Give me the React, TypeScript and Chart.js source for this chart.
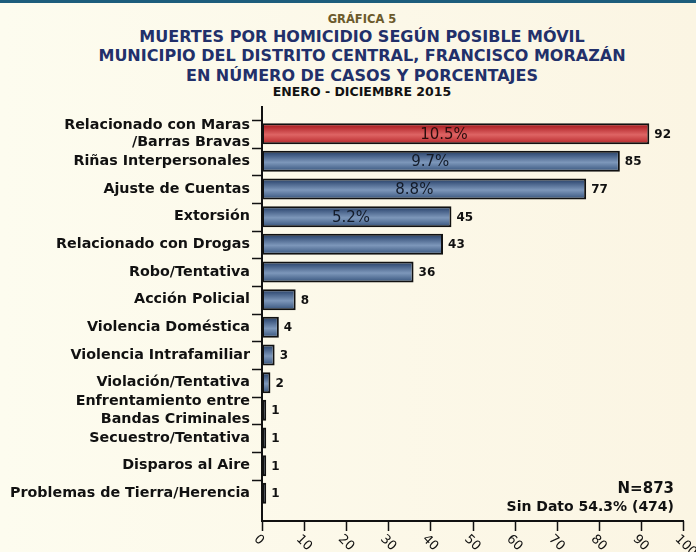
import React, { useEffect, useRef } from "react";
import { Chart, registerables } from "chart.js";

Chart.register(...registerables);

// ---------- data ----------
const categories: (string | string[])[] = [
  ["Relacionado con Maras", "/Barras Bravas"],
  "Riñas Interpersonales",
  "Ajuste de Cuentas",
  "Extorsión",
  "Relacionado con Drogas",
  "Robo/Tentativa",
  "Acción Policial",
  "Violencia Doméstica",
  "Violencia Intrafamiliar",
  "Violación/Tentativa",
  ["Enfrentamiento entre", "Bandas Criminales"],
  "Secuestro/Tentativa",
  "Disparos al Aire",
  "Problemas de Tierra/Herencia",
];
const casos = [92, 85, 77, 45, 43, 36, 8, 4, 3, 2, 1, 1, 1, 1];
const porcentajes = ["10.5%", "9.7%", "8.8%", "5.2%", "", "", "", "", "", "", "", "", "", ""];
const xTicks = [0, 10, 20, 30, 40, 50, 60, 70, 80, 90, 100];
const chartLabel = "GRÁFICA 5";
const titleLines = [
  "MUERTES POR HOMICIDIO SEGÚN POSIBLE MÓVIL",
  "MUNICIPIO DEL DISTRITO CENTRAL, FRANCISCO MORAZÁN",
  "EN NÚMERO DE CASOS Y PORCENTAJES",
];
const periodo = "ENERO - DICIEMBRE 2015";
const totalN = "N=873";
const sinDato = "Sin Dato 54.3% (474)";

const FONT = "'DejaVu Sans', Verdana, sans-serif";
const BAR_PCT = 0.76;
const maxV = Math.max(...casos);

function barFill(c: any) {
  const chart = c.chart;
  const ys = chart.scales && chart.scales.y;
  const i = c.dataIndex;
  const red = casos[i] === maxV;
  if (!chart.chartArea || !ys || i === undefined) return red ? "#cc4444" : "#5a7399";
  const center = ys.getPixelForValue(i);
  const half = (Math.abs(ys.getPixelForValue(1) - ys.getPixelForValue(0)) * BAR_PCT) / 2;
  const g = chart.ctx.createLinearGradient(0, center - half, 0, center + half);
  if (red) {
    g.addColorStop(0, "#951619");
    g.addColorStop(0.18, "#b52a2e");
    g.addColorStop(0.55, "#de6464");
    g.addColorStop(0.85, "#c33a3c");
    g.addColorStop(1, "#a01d20");
  } else {
    g.addColorStop(0, "#263d60");
    g.addColorStop(0.18, "#3e5880");
    g.addColorStop(0.55, "#7d97ba");
    g.addColorStop(0.85, "#4c688f");
    g.addColorStop(1, "#2c466c");
  }
  return g;
}

const decorPlugin = {
  id: "decor",
  afterDatasetsDraw(chart: any) {
    const { ctx, chartArea, scales } = chart;
    const { left, right, top, bottom } = chartArea;
    const xs = scales.x;
    const ys = scales.y;
    ctx.save();

    // value labels
    const meta = chart.getDatasetMeta(0);
    ctx.fillStyle = "#111";
    ctx.font = `bold 12px ${FONT}`;
    ctx.textAlign = "left";
    ctx.textBaseline = "middle";
    meta.data.forEach((bar: any, i: number) => {
      ctx.fillText(String(casos[i]), bar.x + 5, bar.y + 1);
    });

    // percentage labels inside bars
    ctx.font = `15px ${FONT}`;
    ctx.textAlign = "center";
    porcentajes.forEach((p, i) => {
      if (!p) return;
      ctx.fillStyle = casos[i] === maxV ? "#2a0d0d" : "#131b29";
      ctx.fillText(p, xs.getPixelForValue(casos[i] * 0.47), ys.getPixelForValue(i) + 1);
    });

    // axes lines
    ctx.strokeStyle = "#111";
    ctx.lineWidth = 2;
    ctx.beginPath();
    ctx.moveTo(left, top);
    ctx.lineTo(left, bottom + 1);
    ctx.moveTo(left - 1, bottom);
    ctx.lineTo(right + 1, bottom);
    ctx.stroke();

    // y tick marks at band boundaries
    ctx.lineWidth = 1.5;
    ctx.beginPath();
    categories.forEach((_, i) => {
      const yy = Math.round(ys.getPixelForValue(i - 0.5)) + 0.5;
      ctx.moveTo(left - 10, yy);
      ctx.lineTo(left, yy);
    });
    // x tick marks
    xTicks.forEach((v) => {
      const xx = Math.round(xs.getPixelForValue(v)) + 0.5;
      ctx.moveTo(xx, bottom);
      ctx.lineTo(xx, bottom + 10);
    });
    ctx.stroke();

    // rotated x labels
    ctx.fillStyle = "#111";
    ctx.font = `13px ${FONT}`;
    ctx.textAlign = "left";
    ctx.textBaseline = "middle";
    xTicks.forEach((v) => {
      const xx = xs.getPixelForValue(v);
      ctx.save();
      ctx.translate(xx - 6, bottom + 16);
      ctx.rotate(Math.PI / 4);
      ctx.fillText(String(v), 0, 0);
      ctx.restore();
    });

    // annotations
    ctx.textAlign = "right";
    ctx.fillStyle = "#111";
    ctx.font = `bold 15px ${FONT}`;
    ctx.fillText(totalN, right - 9, bottom - 32);
    ctx.font = `bold 14px ${FONT}`;
    ctx.fillText(sinDato, right - 9, bottom - 14);

    ctx.restore();
  },
};

export default function App() {
  const canvasRef = useRef<HTMLCanvasElement | null>(null);

  useEffect(() => {
    const canvas = canvasRef.current;
    if (!canvas) return;
    const chart = new Chart(canvas, {
      type: "bar",
      data: {
        datasets: [
          {
            data: casos.map((v, i) => ({ x: v, y: i })) as any,
            backgroundColor: barFill as any,
            borderColor: "#111",
            borderWidth: 2,
            borderSkipped: false,
            barPercentage: BAR_PCT,
            categoryPercentage: 1,
          },
        ],
      },
      options: {
        indexAxis: "y",
        animation: false,
        responsive: false,
        maintainAspectRatio: false,
        layout: { padding: { top: 106, right: 13, bottom: 31, left: 0 } },
        plugins: {
          legend: { display: false },
          tooltip: { enabled: false },
          title: { display: false },
        },
        scales: {
          x: { type: "linear", display: false, min: 0, max: 100, offset: false },
          y: {
            type: "linear",
            min: -1,
            max: 14,
            reverse: true,
            offset: false,
            grid: { display: false, drawTicks: false, tickLength: 0, offset: false },
            border: { display: false },
            afterFit: (s: any) => {
              s.width = 262;
            },
            afterBuildTicks: (s: any) => {
              s.ticks = categories.map((_, i) => ({ value: i }));
            },
            ticks: {
              autoSkip: false,
              padding: 12,
              color: "#111",
              font: { family: FONT, size: 14.3, weight: "bold", lineHeight: 1.2 },
              callback: (v: any) => categories[v as number] ?? "",
            },
          },
        } as any,
      },
      plugins: [decorPlugin],
    });
    return () => chart.destroy();
  }, []);

  const line = (text: string, top: number, size: number, color: string) => (
    <div
      key={text}
      style={{
        position: "absolute",
        left: 28,
        width: 668,
        top,
        textAlign: "center",
        whiteSpace: "nowrap",
        fontFamily: FONT,
        fontWeight: "bold",
        fontSize: size,
        lineHeight: `${size}px`,
        color,
      }}
    >
      {text}
    </div>
  );

  return (
    <div
      style={{
        position: "absolute",
        left: 0,
        top: 0,
        width: 696,
        height: 552,
        overflow: "hidden",
        background: "linear-gradient(to right, #fdfcef, #fbf5e3)",
      }}
    >
      <div style={{ position: "absolute", left: 0, top: 0, width: 696, height: 3, background: "#1d5d7c" }} />
      {line(chartLabel, 14, 11.5, "#6b5a2c")}
      {line(titleLines[0], 29, 16, "#22306a")}
      {line(titleLines[1], 48, 16, "#22306a")}
      {line(titleLines[2], 67.5, 16, "#22306a")}
      {line(periodo, 86, 12.5, "#111")}
      <canvas
        ref={canvasRef}
        width={696}
        height={552}
        style={{ position: "absolute", left: 0, top: 0, width: 696, height: 552, display: "block" }}
      />
    </div>
  );
}
